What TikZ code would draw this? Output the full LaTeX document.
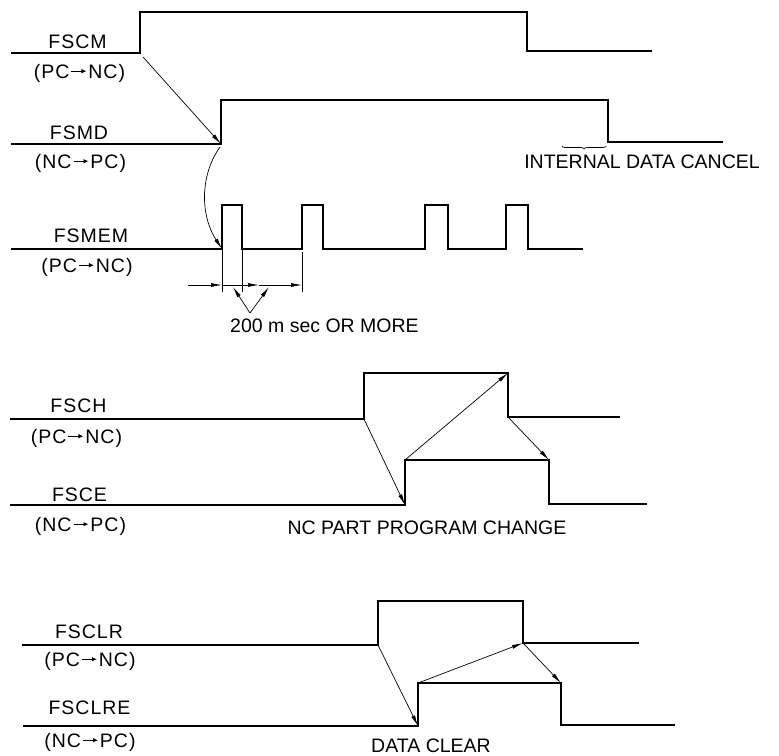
\documentclass[tikz,border=0pt]{standalone}
\usepackage{fontspec}
\setmainfont{Liberation Sans}
\newfontfamily\lblfont[LetterSpace=5]{Liberation Sans}
\usetikzlibrary{arrows.meta,decorations.pathreplacing}
\newcommand{\sigarrow}{\hspace{1.5pt}\tikz[baseline=0pt,x=1pt,y=1pt]{\draw[line width=0.9pt,-{Latex[length=5pt,width=4.5pt]}] (0,6.8) -- (15,6.8);}\hspace{1.5pt}}
\begin{document}
\begin{tikzpicture}[x=1pt,y=-1pt,
  sig/.style={line width=1.5pt,line join=miter},
  cause/.style={line width=0.7pt,-{Latex[length=11pt,width=4pt]}},
  thinln/.style={line width=0.7pt},
  lbl/.style={inner sep=0pt,anchor=base,font=\lblfont\fontsize{19.5}{22}\selectfont},
  txt/.style={inner sep=0pt,anchor=base,font=\fontsize{19.5}{22}\selectfont}]
\useasboundingbox (0,0) rectangle (779,755);

% ---------- FSCM / FSMD / FSMEM ----------
\coordinate (cmL) at (11,53);  \coordinate (cmR) at (140,53);
\coordinate (cmRt) at (140,12); \coordinate (cmF) at (527,12);
\coordinate (cmFb) at (527,51); \coordinate (cmE) at (652,51);
\draw[sig] (cmL) -- (cmR) -- (cmRt) -- (cmF) -- (cmFb) -- (cmE);

\coordinate (mdL) at (11,144); \coordinate (mdR) at (221,144);
\coordinate (mdRt) at (221,100); \coordinate (mdF) at (608,100);
\coordinate (mdFb) at (608,142); \coordinate (mdE) at (723,142);
\draw[sig] (mdL) -- (mdR) -- (mdRt) -- (mdF) -- (mdFb) -- (mdE);

\coordinate (meL) at (11,249);
\coordinate (p1a) at (222,249); \coordinate (p1b) at (242,249);
\coordinate (p2a) at (302,249); \coordinate (p2b) at (323,249);
\draw[sig] (meL) -- (p1a) -- (222,205) -- (242,205) -- (p1b) -- (p2a)
  -- (302,205) -- (323,205) -- (p2b) -- (425,249) -- (425,205) -- (448,205)
  -- (448,249) -- (506,249) -- (506,205) -- (528,205) -- (528,249) -- (583,249);

\node[lbl] (lFSCM) at (77.5,48) {FSCM};
\node[lbl] (lFSCMd) at (79.5,78) {(PC\sigarrow NC)};
\node[lbl] (lFSMD) at (79,139) {FSMD};
\node[lbl] (lFSMDd) at (80.5,168) {(NC\sigarrow PC)};
\node[lbl] (lFSMEM) at (91,242) {FSMEM};
\node[lbl] (lFSMEMd) at (87,272) {(PC\sigarrow NC)};
\node[txt] (tIDC) at (642,168) {INTERNAL DATA CANCEL};
\draw[thinln,decorate,decoration={brace,amplitude=3pt}] (606,146) -- (562,146);

\coordinate (a1s) at (143,57);
\draw[cause] (a1s) -- (mdR);
\coordinate (a2s) at (220,147);
\draw[cause] (a2s) .. controls (200,175) and (200,215) .. (p1a);

% dimension
\coordinate (e1) at (222,285); \coordinate (e2) at (242,285);
\coordinate (e3) at (302,285); \coordinate (d0) at (188,285);
\coordinate (dm) at (259,285);
\draw[thinln] (p1a) -- (222,292);
\draw[thinln] (p1b) -- (242,292);
\draw[thinln] (302,252) -- (302,292);
\draw[cause] (d0) -- (e1);
\draw[thinln] (e1) -- (e2);
\draw[cause] (e2) -- (dm);
\draw[cause] (dm) -- (e3);
\coordinate (vA) at (250,313);
\draw[cause] (vA) -- (233,287);
\draw[cause] (vA) -- (269,287);
\node[txt,anchor=base west] (t200) at (230,332) {200 m sec OR MORE};

% ---------- FSCH / FSCE ----------
\coordinate (chL) at (10,419); \coordinate (chR) at (364,419);
\coordinate (chRt) at (364,373); \coordinate (chF) at (508,373);
\coordinate (chFb) at (508,417); \coordinate (chE) at (620,417);
\draw[sig] (chL) -- (chR) -- (chRt) -- (chF) -- (chFb) -- (chE);

\coordinate (ceL) at (10,505); \coordinate (ceR) at (405,505);
\coordinate (ceRt) at (405,460); \coordinate (ceF) at (549,460);
\coordinate (ceFb) at (549,504); \coordinate (ceE) at (647,504);
\draw[sig] (ceL) -- (ceR) -- (ceRt) -- (ceF) -- (ceFb) -- (ceE);

\node[lbl] (lFSCH) at (78.5,412) {FSCH};
\node[lbl] (lFSCHd) at (76.5,443) {(PC\sigarrow NC)};
\node[lbl] (lFSCE) at (79.5,501) {FSCE};
\node[lbl] (lFSCEd) at (80.5,531) {(NC\sigarrow PC)};
\node[txt] (tNCP) at (427,534) {NC PART PROGRAM CHANGE};

\draw[cause] (chR) -- (ceR);
\draw[cause] (ceRt) -- (chF);
\draw[cause] (chFb) -- (ceF);

% ---------- FSCLR / FSCLRE ----------
\coordinate (crL) at (22,645); \coordinate (crR) at (378,645);
\coordinate (crRt) at (378,601); \coordinate (crF) at (523,601);
\coordinate (crFb) at (523,643); \coordinate (crE) at (639,643);
\draw[sig] (crL) -- (crR) -- (crRt) -- (crF) -- (crFb) -- (crE);

\coordinate (cxL) at (23,726); \coordinate (cxR) at (418,726);
\coordinate (cxRt) at (418,683); \coordinate (cxF) at (561,683);
\coordinate (cxFb) at (561,725); \coordinate (cxE) at (675,725);
\draw[sig] (cxL) -- (cxR) -- (cxRt) -- (cxF) -- (cxFb) -- (cxE);

\node[lbl] (lFSCLR) at (89,638) {FSCLR};
\node[lbl] (lFSCLRd) at (90,666) {(PC\sigarrow NC)};
\node[lbl] (lFSCLRE) at (89.5,714) {FSCLRE};
\node[lbl] (lFSCLREd) at (90,747) {(NC\sigarrow PC)};
\node[txt] (tDC) at (431,752) {DATA CLEAR};

\draw[cause] (crR) -- (cxR);
\draw[cause] (cxRt) -- (crFb);
\draw[cause] (crFb) -- (cxF);
\end{tikzpicture}
\end{document}
